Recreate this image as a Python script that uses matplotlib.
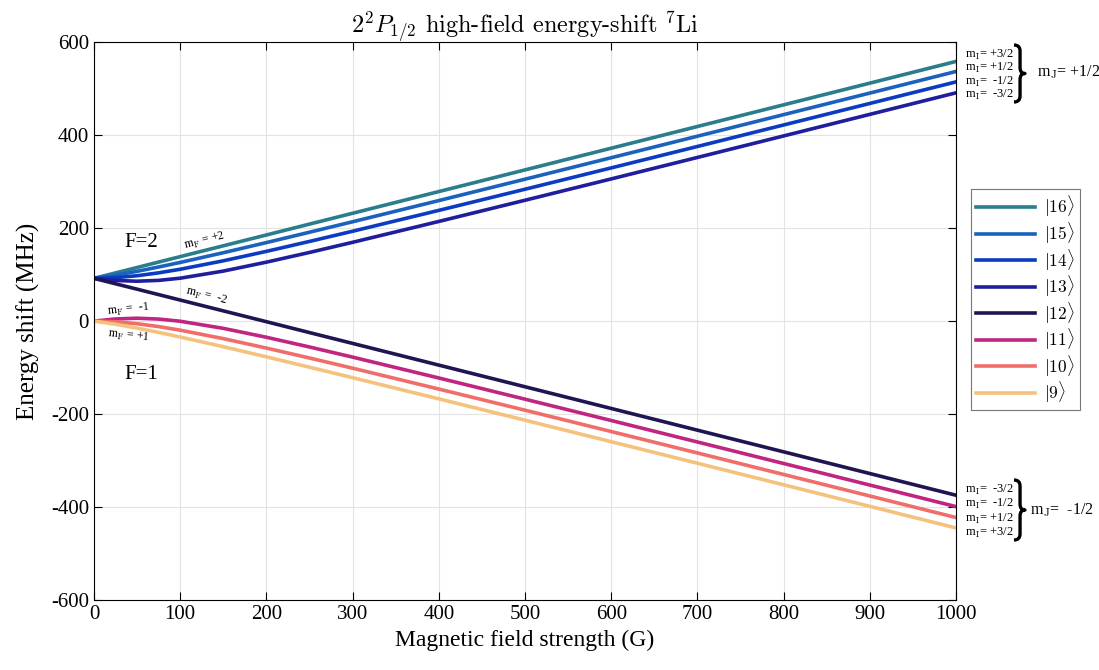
import matplotlib
matplotlib.use('Agg')
import matplotlib.pyplot as plt
from matplotlib.path import Path
from matplotlib.patches import PathPatch

plt.rcParams['font.family'] = ['Liberation Serif', 'DejaVu Serif']
plt.rcParams['mathtext.fontset'] = 'cm'

# magnetic field (G)
field = [0, 25, 50, 75, 100, 150, 200, 250, 300, 400, 500, 600, 700, 800, 900, 1000]

# energy shifts (MHz)
e16 = [92, 103.7, 115.3, 127.0, 138.7, 162.0, 185.3, 208.7, 232.0, 278.7, 325.3, 372.0, 418.7, 465.3, 512.0, 558.7]
e15 = [92, 98.8, 107.1, 116.4, 126.2, 147.1, 168.9, 191.2, 213.7, 259.3, 305.3, 351.5, 397.8, 444.2, 490.6, 537.1]
e14 = [92, 93.5, 97.6, 103.8, 111.5, 129.7, 150.0, 171.4, 193.3, 238.2, 283.7, 329.6, 375.7, 422.0, 468.3, 514.7]
e13 = [92, 87.4, 85.8, 87.6, 92.3, 107.6, 126.8, 147.7, 169.5, 214.4, 260.0, 305.9, 352.1, 398.4, 444.8, 491.2]
e12 = [92, 80.3, 68.7, 57.0, 45.3, 22.0, -1.3, -24.7, -48.0, -94.7, -141.3, -188.0, -234.7, -281.3, -328.0, -374.7]
e11 = [0, 4.6, 6.2, 4.4, -0.3, -15.6, -34.8, -55.7, -77.5, -122.4, -168.0, -213.9, -260.1, -306.4, -352.8, -399.2]
e10 = [0, -1.5, -5.6, -11.8, -19.5, -37.7, -58.0, -79.4, -101.3, -146.2, -191.7, -237.6, -283.7, -330.0, -376.3, -422.7]
e9 = [0, -6.8, -15.1, -24.4, -34.2, -55.1, -76.9, -99.2, -121.7, -167.3, -213.3, -259.5, -305.8, -352.2, -398.6, -445.1]

states = ['16', '15', '14', '13', '12', '11', '10', '9']
series = [e16, e15, e14, e13, e12, e11, e10, e9]
colors = ['#2a7d8c', '#1a62bd', '#0b3bc0', '#1f1e9c', '#1e1552',
          '#c0267f', '#ef6e6a', '#f5c27d']

W, H = 1099, 670
fig = plt.figure(figsize=(W / 100, H / 100), dpi=100)
ax = fig.add_axes([0.0855, 0.1045, 0.7845, 0.8325])

lines = []
for s, e, c in zip(states, series, colors):
    l, = ax.plot(field, e, color=c, lw=2.6, label=r'$|%s\rangle$' % s)
    lines.append(l)

ax.set_xlim(0, 1000)
ax.set_ylim(-600, 600)
ax.set_xticks(range(0, 1001, 100))
ax.set_yticks(range(-600, 601, 200))
ax.set_yticklabels(['-600', '-400', '-200', '0', '200', '400', '600'])
ax.grid(True, color='#e3e3e3', lw=0.8)
ax.set_axisbelow(True)
ax.tick_params(direction='in', labelsize=15, length=6, top=True, right=True)
ax.set_xlabel('Magnetic field strength (G)', fontsize=17, labelpad=4)
ax.set_ylabel('Energy shift (MHz)', fontsize=18, labelpad=8)
ax.set_title(r'$2^2P_{1/2}$ high-field energy-shift $^7$Li',
             fontsize=17.5, family='cmr10', pad=6)

# state annotations
ax.text(35, 170, 'F=2', fontsize=15, va='center')
ax.text(35, -114, 'F=1', fontsize=15, va='center')
ax.text(103, 172, r'm$_\mathrm{F}$ = +2', fontsize=8.5, rotation=14, va='center')
ax.text(104, 54, r'm$_\mathrm{F}$ =  -2', fontsize=8.5, rotation=-14, va='center')
ax.text(15, 24, r'm$_\mathrm{F}$ =  -1', fontsize=8.5, rotation=6, va='center')
ax.text(15, -32, r'm$_\mathrm{F}$ = +1', fontsize=8.5, rotation=-6, va='center')

# right side labels
up = [r'm$_\mathrm{I}$= +3/2', r'm$_\mathrm{I}$= +1/2', r'm$_\mathrm{I}$=  -1/2', r'm$_\mathrm{I}$=  -3/2']
down = [r'm$_\mathrm{I}$=  -3/2', r'm$_\mathrm{I}$=  -1/2', r'm$_\mathrm{I}$= +1/2', r'm$_\mathrm{I}$= +3/2']
for i, t in enumerate(up):
    fig.text(965 / W, 1 - (55 + 13.3 * i) / H, t, fontsize=9, va='center')
for i, t in enumerate(down):
    fig.text(965 / W, 1 - (490 + 14.3 * i) / H, t, fontsize=9, va='center')


def brace(x0, y_top, y_bot, w=11):
    # curly brace in figure pixels (y from top)
    ym = (y_top + y_bot) / 2
    xm = x0 + w * 0.55
    pts = [(x0, y_top), (xm, y_top), (xm, y_top + 6),
           (xm, ym - 6), (xm, ym), (x0 + w, ym),
           (xm, ym), (xm, ym + 6),
           (xm, y_bot - 6), (xm, y_bot), (x0, y_bot)]
    codes = [Path.MOVETO, Path.CURVE3, Path.CURVE3,
             Path.LINETO, Path.CURVE3, Path.CURVE3,
             Path.CURVE3, Path.CURVE3,
             Path.LINETO, Path.CURVE3, Path.CURVE3]
    verts = [(x / W, 1 - y / H) for x, y in pts]
    fig.patches.append(PathPatch(Path(verts, codes), transform=fig.transFigure,
                                 fill=False, lw=2.4, color='black',
                                 capstyle='butt', joinstyle='round'))


brace(1014, 45, 102)
brace(1014, 480, 540)
fig.text(1037 / W, 1 - 72 / H, r'm$_\mathrm{J}$= +1/2', fontsize=11.5, va='center')
fig.text(1030 / W, 1 - 510 / H, r'm$_\mathrm{J}$=  -1/2', fontsize=11.5, va='center')

leg = fig.legend(handles=lines, loc='upper left', bbox_to_anchor=(971 / W, 1 - 189 / H),
                 fontsize=12.5, handlelength=3.4, handletextpad=0.5, frameon=True,
                 fancybox=False, edgecolor='#555555', labelspacing=0.07,
                 borderpad=0.3, borderaxespad=0)
leg.get_frame().set_linewidth(0.8)

fig.savefig('out.png', dpi=100)
